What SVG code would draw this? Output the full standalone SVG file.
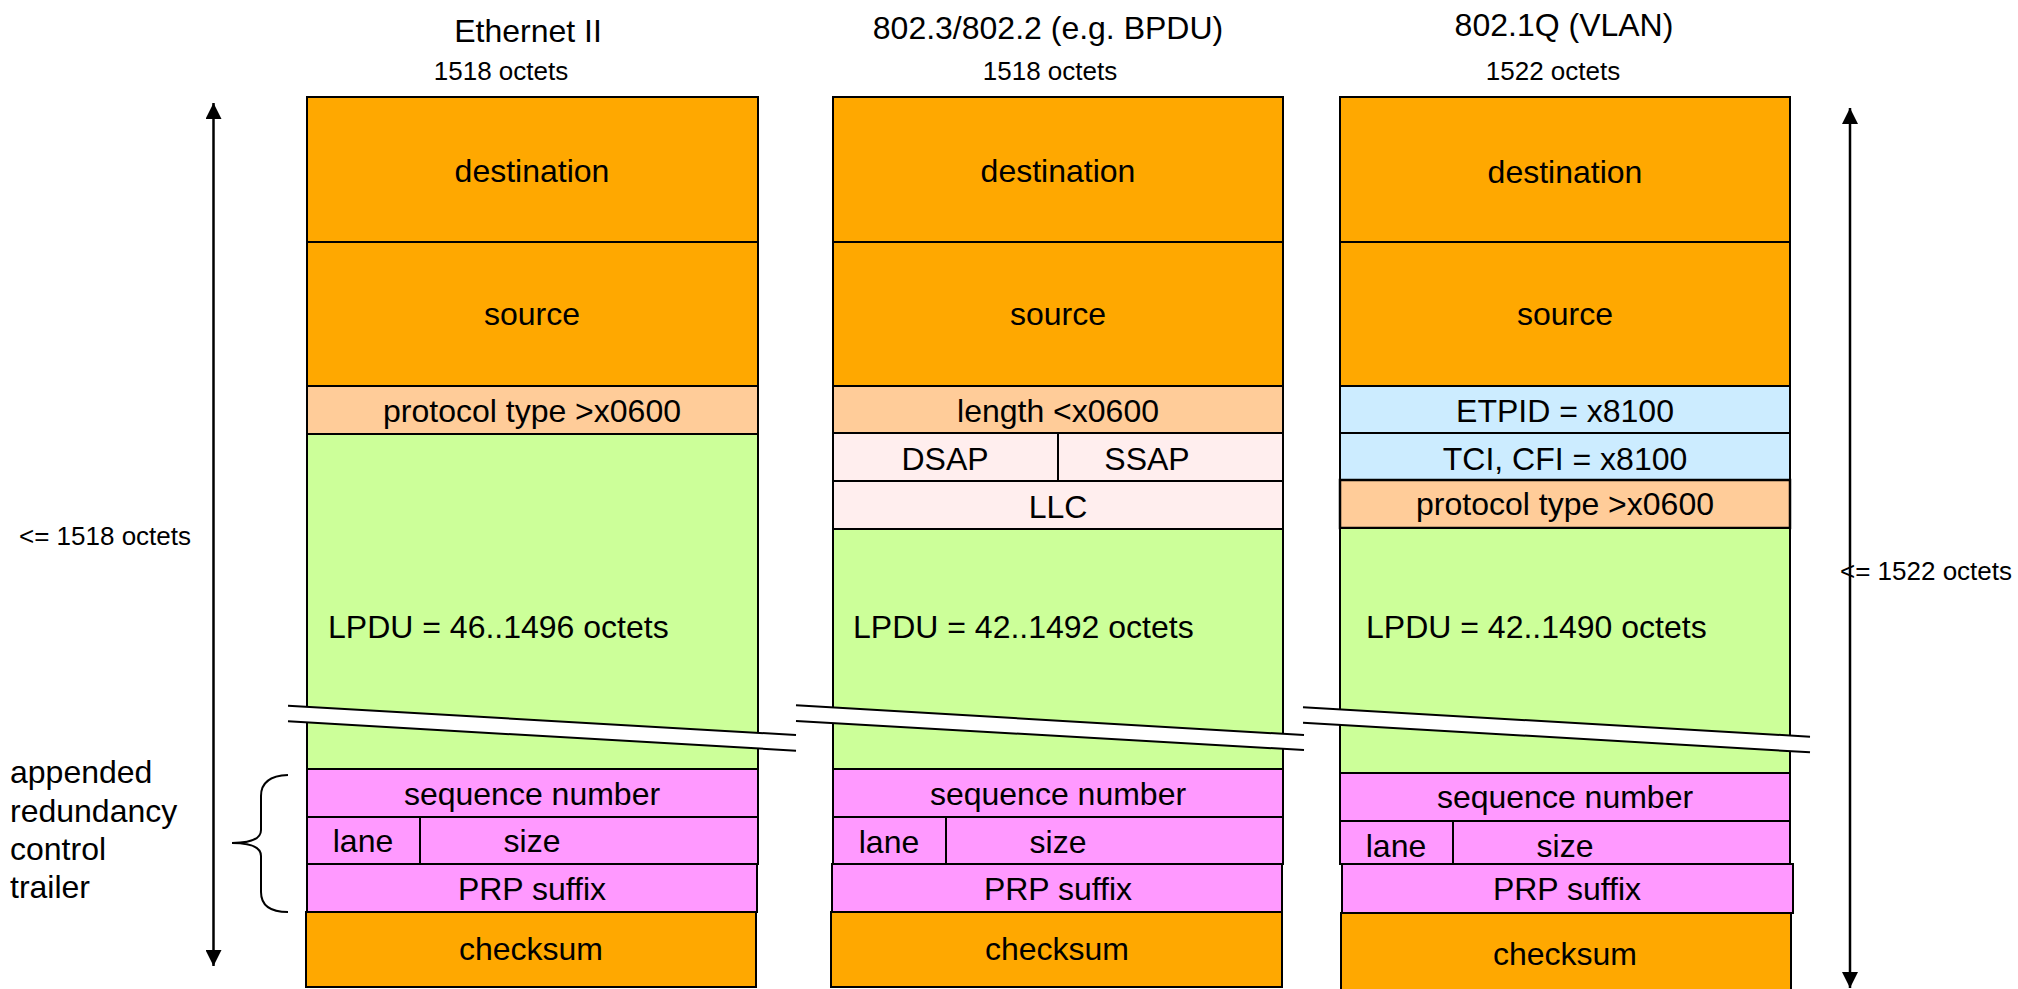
<svg xmlns="http://www.w3.org/2000/svg" width="2018" height="989" viewBox="0 0 2018 989">
<style>
text{font-family:"Liberation Sans",Arial,sans-serif;fill:#000}
.t{font-size:32px;text-anchor:middle}
.s{font-size:26px;text-anchor:middle}
.l{font-size:32px}
.sl{font-size:26px}
rect{stroke:#000;stroke-width:2}
.or{fill:#FFA800}
.lo{fill:#FFCC99}
.gr{fill:#CCFF99}
.pk{fill:#FF99FF}
.lp{fill:#FFEEEE}
.bl{fill:#CCECFF}
.dv{stroke:#000;stroke-width:2}
.brk{fill:#fff;stroke:none}
.bl2{stroke:#000;stroke-width:2;fill:none}
</style>
<defs>
<marker id="ah" markerUnits="userSpaceOnUse" markerWidth="16" markerHeight="16" refX="16" refY="8" orient="auto-start-reverse">
<path d="M0,0 L16,8 L0,16 z" fill="#000"/>
</marker>
</defs>

<g id="titles">
<text class="t" x="528" y="42">Ethernet II</text>
<text class="s" x="501" y="80">1518 octets</text>
<text class="t" x="1048" y="39">802.3/802.2 (e.g. BPDU)</text>
<text class="s" x="1050" y="80">1518 octets</text>
<text class="t" x="1564" y="36">802.1Q (VLAN)</text>
<text class="s" x="1553" y="80">1522 octets</text>
</g>

<g id="labels">
<text class="sl" x="19" y="545">&lt;= 1518 octets</text>
<text class="sl" x="1840" y="580">&lt;= 1522 octets</text>
<text class="l" x="10" y="783">appended</text>
<text class="l" x="10" y="822">redundancy</text>
<text class="l" x="10" y="860">control</text>
<text class="l" x="10" y="898">trailer</text>
</g>

<g id="col-ethernet2">
<rect class="or" x="307" y="97" width="451" height="145"/>
<text class="t" x="532" y="182">destination</text>
<rect class="or" x="307" y="242" width="451" height="144"/>
<text class="t" x="532" y="325">source</text>
<rect class="lo" x="307" y="386" width="451" height="48"/>
<text class="t" x="532" y="422">protocol type &gt;x0600</text>
<rect class="gr" x="307" y="434" width="451" height="335"/>
<text class="l" x="328" y="638">LPDU = 46..1496 octets</text>
<rect class="pk" x="307" y="769" width="451" height="48"/>
<text class="t" x="532" y="805">sequence number</text>
<rect class="pk" x="307" y="817" width="451" height="47"/>
<line class="dv" x1="420" y1="817" x2="420" y2="864"/>
<text class="t" x="363" y="852">lane</text>
<text class="t" x="532" y="852">size</text>
<rect class="pk" x="307" y="864" width="450" height="48"/>
<text class="t" x="532" y="900">PRP suffix</text>
<rect class="or" x="306" y="912" width="450" height="75"/>
<text class="t" x="531" y="960">checksum</text>
</g>

<g id="col-8023">
<rect class="or" x="833" y="97" width="450" height="145"/>
<text class="t" x="1058" y="182">destination</text>
<rect class="or" x="833" y="242" width="450" height="144"/>
<text class="t" x="1058" y="325">source</text>
<rect class="lo" x="833" y="386" width="450" height="47"/>
<text class="t" x="1058" y="422">length &lt;x0600</text>
<rect class="lp" x="833" y="433" width="450" height="48"/>
<line class="dv" x1="1058" y1="433" x2="1058" y2="481"/>
<text class="t" x="945" y="470">DSAP</text>
<text class="t" x="1147" y="470">SSAP</text>
<rect class="lp" x="833" y="481" width="450" height="48"/>
<text class="t" x="1058" y="518">LLC</text>
<rect class="gr" x="833" y="529" width="450" height="240"/>
<text class="l" x="853" y="638">LPDU = 42..1492 octets</text>
<rect class="pk" x="833" y="769" width="450" height="48"/>
<text class="t" x="1058" y="805">sequence number</text>
<rect class="pk" x="833" y="817" width="450" height="47"/>
<line class="dv" x1="946" y1="817" x2="946" y2="864"/>
<text class="t" x="889" y="853">lane</text>
<text class="t" x="1058" y="853">size</text>
<rect class="pk" x="832" y="864" width="450" height="48"/>
<text class="t" x="1058" y="900">PRP suffix</text>
<rect class="or" x="831" y="912" width="451" height="75"/>
<text class="t" x="1057" y="960">checksum</text>
</g>

<g id="col-8021q">
<rect class="or" x="1340" y="97" width="450" height="145"/>
<text class="t" x="1565" y="183">destination</text>
<rect class="or" x="1340" y="242" width="450" height="144"/>
<text class="t" x="1565" y="325">source</text>
<rect class="bl" x="1340" y="386" width="450" height="47"/>
<text class="t" x="1565" y="422">ETPID = x8100</text>
<rect class="bl" x="1340" y="433" width="450" height="47"/>
<text class="t" x="1565" y="470">TCI, CFI = x8100</text>
<rect class="lo" x="1340" y="480" width="450" height="48" style="stroke-width:2.5"/>
<text class="t" x="1565" y="515">protocol type &gt;x0600</text>
<rect class="gr" x="1340" y="528" width="450" height="245"/>
<text class="l" x="1366" y="638">LPDU = 42..1490 octets</text>
<rect class="pk" x="1340" y="773" width="450" height="48"/>
<text class="t" x="1565" y="808">sequence number</text>
<rect class="pk" x="1340" y="821" width="450" height="43"/>
<line class="dv" x1="1453" y1="821" x2="1453" y2="864"/>
<text class="t" x="1396" y="857">lane</text>
<text class="t" x="1565" y="857">size</text>
<rect class="pk" x="1342" y="864" width="451" height="49"/>
<text class="t" x="1567" y="900">PRP suffix</text>
<rect class="or" x="1341" y="913" width="450" height="85"/>
<text class="t" x="1565" y="965">checksum</text>
</g>

<g id="breaks">
<polygon class="brk" points="288,705.7 796,735 796,750.7 288,721.3"/>
<line class="bl2" x1="288" y1="705.7" x2="796" y2="735"/>
<line class="bl2" x1="288" y1="721.3" x2="796" y2="750.7"/>
<polygon class="brk" points="796,705.3 1304,735 1304,750 796,721"/>
<line class="bl2" x1="796" y1="705.3" x2="1304" y2="735"/>
<line class="bl2" x1="796" y1="721" x2="1304" y2="750"/>
<polygon class="brk" points="1303,707.3 1810,736.7 1810,752.3 1303,722.7"/>
<line class="bl2" x1="1303" y1="707.3" x2="1810" y2="736.7"/>
<line class="bl2" x1="1303" y1="722.7" x2="1810" y2="752.3"/>
</g>

<g id="connectors">
<line x1="213.5" y1="103" x2="213.5" y2="966" stroke="#000" stroke-width="2.5" marker-start="url(#ah)" marker-end="url(#ah)"/>
<line x1="1850" y1="108" x2="1850" y2="988" stroke="#000" stroke-width="2.5" marker-start="url(#ah)" marker-end="url(#ah)"/>
<path d="M288,775 Q261,776 261,796 L261,830 Q261,843 232,843 Q261,843 261,856 L261,892 Q261,912 288,912" fill="none" stroke="#000" stroke-width="2"/>
</g>
</svg>
